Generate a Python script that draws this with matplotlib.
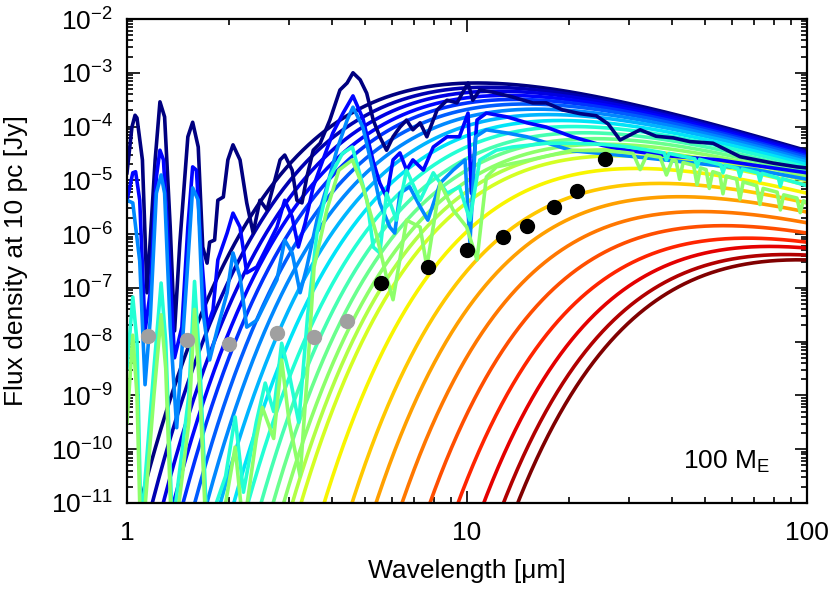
import numpy as np
import matplotlib
matplotlib.use("Agg")
import matplotlib.pyplot as plt
from matplotlib import ticker

plt.rcParams['font.family'] = ['Liberation Sans', 'DejaVu Sans']
plt.rcParams['mathtext.fontset'] = 'custom'
plt.rcParams['mathtext.rm'] = 'Liberation Sans'
plt.rcParams['mathtext.it'] = 'Liberation Sans:italic'

# blackbody curves: one point (wavelength [um], log10 flux) on each curve,
# plus log10 flux at the right edge (100 um)
bb_wl = [10.9] * 14 + [3.25, 3.80, 4.59, 5.40, 6.44, 7.78, 9.41, 11.2, 12.8, 14.1]
bb_f = [-3.19, -3.27, -3.35, -3.44, -3.53, -3.64, -3.77, -3.92, -4.09, -4.28, -4.48, -4.68, -4.87, -5.05,
        -11, -11, -11, -11, -11, -11, -11, -11, -11, -11]
bb_f100 = [-4.45, -4.47, -4.49, -4.52, -4.55, -4.58, -4.62, -4.66, -4.71, -4.76, -4.82, -4.88, -4.94, -5.01,
           -5.09, -5.24, -5.42, -5.59, -5.79, -5.98, -6.15, -6.26, -6.39, -6.48]

# model spectra (index into the blackbody list -> colour), log10 flux
sp0_wl = [1.00, 1.034, 1.056, 1.07, 1.11, 1.145, 1.21, 1.25, 1.29, 1.34, 1.38, 1.43, 1.51, 1.56, 1.62,
          1.67, 1.72, 1.75, 1.81, 1.85, 1.92, 1.98, 2.05, 2.15, 2.25, 2.35, 2.46, 2.58, 2.69, 2.82,
          2.91, 3.06, 3.16, 3.27, 3.38, 3.53, 3.70, 3.95, 4.23, 4.44, 4.62, 4.85, 5.07, 5.30, 5.54,
          5.80, 6.06, 6.35, 6.64, 6.93, 7.28, 7.62, 8.17, 8.74, 9.34, 10.07, 10.4, 10.9, 11.9, 13.6,
          15.6, 17.1, 19.1, 21.5, 24.0, 26.0, 28.2, 32.3, 36.0, 40.4, 45.3, 52.9, 63.5, 79.5, 93.5, 100]
sp0_f = [-4.86, -4.01, -3.79, -3.84, -4.62, -7.09, -4.62, -3.54, -3.82, -5.87, -7.80, -6.17, -4.19, -3.92, -4.38,
         -6.24, -6.54, -6.15, -6.11, -5.37, -5.31, -4.62, -4.34, -4.62, -5.42, -5.98, -5.37, -5.55, -5.12, -4.62,
         -4.53, -4.81, -5.37, -5.42, -4.94, -4.44, -4.31, -3.88, -3.32, -3.19, -3.00, -3.13, -3.38, -3.88, -4.19,
         -4.44, -4.19, -4.01, -3.88, -4.06, -3.93, -4.19, -3.69, -3.51, -3.56, -3.19, -3.51, -3.32, -3.36, -3.45,
         -3.56, -3.56, -3.69, -3.76, -3.80, -3.95, -4.25, -4.06, -4.18, -4.21, -4.28, -4.31, -4.56, -4.68, -4.75, -4.77]

sp3_wl = [1.00, 1.04, 1.06, 1.09, 1.13, 1.17, 1.22, 1.25, 1.28, 1.34, 1.38, 1.45, 1.51, 1.56, 1.60,
          1.66, 1.72, 1.79, 1.85, 1.97, 2.05, 2.15, 2.25, 2.41, 2.58, 2.76, 2.91, 3.06, 3.19, 3.34,
          3.53, 3.77, 4.03, 4.32, 4.62, 4.94, 5.30, 5.54, 5.80, 6.06, 6.35, 6.64, 6.93, 7.44, 7.96,
          8.74, 9.5, 10.07, 10.3, 10.7, 11.4, 13.1, 15.0, 17.1, 20.4, 25.0, 30.0, 40.0, 55.0, 70.0, 100]
sp3_f = [-5.37, -4.86, -4.84, -5.37, -7.80, -7.09, -4.94, -4.44, -4.62, -6.80, -8.30, -7.73, -5.87, -4.75, -4.81,
         -6.48, -7.73, -7.41, -6.48, -5.98, -5.61, -5.87, -6.72, -6.61, -6.24, -5.87, -5.37, -5.68, -6.24, -5.80,
         -5.12, -4.62, -4.12, -3.75, -3.43, -3.85, -4.65, -5.05, -5.31, -4.62, -4.49, -4.81, -4.62, -4.81, -4.38,
         -4.19, -4.19, -3.75, -5.24, -3.88, -3.75, -3.82, -3.93, -4.01, -4.19, -4.35, -4.45, -4.55, -4.62, -4.72, -4.86]

sp6_wl = [1.00, 1.04, 1.09, 1.13, 1.17, 1.22, 1.26, 1.29, 1.34, 1.40, 1.50, 1.56, 1.62, 1.67, 1.75,
          1.85, 1.97, 2.05, 2.15, 2.25, 2.41, 2.58, 2.76, 2.91, 3.06, 3.23, 3.38, 3.62, 3.87, 4.14,
          4.44, 4.62, 4.94, 5.29, 5.54, 5.93, 6.13, 6.35, 6.78, 7.28, 7.67, 8.34, 9.1, 9.87, 10.2,
          10.6, 11.4, 13.1, 15.0, 17.1, 20.4, 30.0, 50.0, 70.0, 100]
sp6_f = [-5.37, -5.42, -6.50, -8.80, -7.60, -5.24, -4.90, -5.24, -7.73, -9.60, -6.80, -5.14, -5.37, -7.41, -8.34,
         -7.73, -7.09, -6.35, -6.80, -7.73, -7.60, -7.22, -6.85, -6.11, -6.35, -7.09, -6.61, -5.74, -5.12, -4.44,
         -3.88, -3.64, -4.01, -4.81, -5.42, -5.87, -5.98, -5.24, -5.12, -5.49, -5.74, -5.05, -4.81, -4.62, -6.17,
         -4.19, -4.06, -4.12, -4.19, -4.30, -4.45, -4.55, -4.70, -4.80, -4.98]

sp9_wl = [1.00, 1.04, 1.07, 1.10, 1.20, 1.26, 1.30, 1.36, 1.52, 1.58, 1.64, 1.72, 1.95, 2.08, 2.20,
          2.40, 2.55, 2.70, 2.85, 3.00, 3.20, 3.40, 3.62, 3.95, 4.30, 4.60, 5.08, 5.30, 5.54, 5.80,
          6.20, 6.64, 7.28, 7.96, 8.74, 9.5, 10.2, 10.9, 12.2, 13.6, 17.2, 20.4, 25.0, 30.0, 35.0,
          38.0, 38.6, 39.3, 46.8, 47.5, 48.3, 55.8, 56.6, 57.5, 62.6, 63.5, 64.5, 71.7, 72.7, 73.8,
          82.4, 83.5, 84.7, 100]
sp9_f = [-8.50, -7.17, -8.00, -11.5, -8.50, -6.91, -8.00, -11.5, -9.00, -6.88, -8.50, -11.5, -10.5, -9.40, -10.8,
         -9.50, -8.77, -9.30, -8.03, -8.60, -9.50, -7.50, -5.98, -4.94, -4.50, -4.38, -5.37, -6.24, -6.35, -5.24,
         -5.74, -4.81, -5.37, -4.86, -5.24, -5.12, -5.74, -4.62, -4.44, -4.38, -4.31, -4.31, -4.33, -4.38, -4.45,
         -4.49, -4.62, -4.50, -4.60, -4.75, -4.61, -4.71, -4.86, -4.72, -4.78, -4.93, -4.79, -4.86, -5.01, -4.87,
         -4.96, -5.11, -4.97, -5.10]

sp12_wl = [1.00, 1.04, 1.07, 1.10, 1.20, 1.26, 1.30, 1.36, 1.52, 1.58, 1.64, 1.72, 1.95, 2.08, 2.20,
           2.40, 2.50, 2.70, 2.85, 3.00, 3.23, 3.40, 3.55, 3.87, 4.20, 4.60, 4.94, 5.40, 5.80, 6.06,
           6.64, 7.28, 7.62, 8.34, 9.1, 9.98, 10.7, 11.4, 12.2, 15.3, 20.4, 25.0, 28.0, 30.8, 32.3,
           33.8, 37.0, 38.6, 40.2, 41.2, 42.2, 43.2, 46.4, 47.5, 48.6, 50.5, 51.6, 52.8, 55.4, 56.6,
           57.9, 62.1, 63.5, 64.9, 71.1, 72.7, 74.3, 81.7, 83.5, 85.4, 93.4, 95.5, 97.6, 100]
sp12_f = [-9.50, -7.88, -9.00, -12.0, -9.00, -7.50, -8.50, -12.0, -9.50, -7.40, -9.00, -12.0, -11.0, -9.96, -11.5,
          -9.80, -9.22, -9.80, -8.34, -9.50, -10.5, -8.50, -6.61, -5.55, -4.81, -4.62, -5.12, -5.98, -6.80, -7.22,
          -5.74, -5.87, -6.61, -5.05, -5.55, -5.87, -6.48, -4.94, -4.75, -4.62, -4.44, -4.45, -4.47, -4.50, -4.80,
          -4.53, -4.57, -4.90, -4.62, -4.64, -4.98, -4.67, -4.72, -5.08, -4.77, -4.80, -5.15, -4.84, -4.88, -5.25,
          -4.92, -4.98, -5.35, -5.03, -5.10, -5.45, -5.15, -5.22, -5.55, -5.27, -5.33, -5.60, -5.38, -5.42]

spectra = [(0, sp0_wl, sp0_f), (3, sp3_wl, sp3_f), (6, sp6_wl, sp6_f),
           (9, sp9_wl, sp9_f), (12, sp12_wl, sp12_f)]

# photometric sensitivity limits
nircam_wl = [1.15, 1.50, 2.00, 2.77, 3.56, 4.44]
nircam_f = [1.28e-8, 1.07e-8, 9.1e-9, 1.45e-8, 1.23e-8, 2.45e-8]
miri_wl = [5.6, 7.7, 10.0, 12.8, 15.0, 18.0, 21.0, 25.5]
miri_f = [1.24e-7, 2.45e-7, 5.1e-7, 8.9e-7, 1.4e-6, 3.2e-6, 6.3e-6, 2.5e-5]


def planck_shape(lam, T):
    return lam ** -3.0 / np.expm1(14388.0 / (lam * T))


def solve_temp(wa, fa, f100):
    # temperature whose Planck curve passes through (wa, fa) and (100 um, f100)
    target = fa - f100
    lo, hi = np.log(10.0), np.log(5000.0)
    for _ in range(80):
        mid = 0.5 * (lo + hi)
        T = np.exp(mid)
        val = np.log10(planck_shape(wa, T) / planck_shape(100.0, T))
        if val < target:
            lo = mid
        else:
            hi = mid
    return np.exp(0.5 * (lo + hi))


n = len(bb_wl)
cmap = plt.get_cmap('jet')
colors = [cmap(i / (n - 1)) for i in range(n)]

fig = plt.figure(figsize=(8.3, 5.9), dpi=100)
ax = fig.add_axes([127 / 830, 1 - 503 / 590, 680 / 830, 484 / 590])

lam = np.logspace(0, 2, 600)
for i in range(n):
    T = solve_temp(bb_wl[i], bb_f[i], bb_f100[i])
    amp = 10 ** bb_f100[i] / planck_shape(100.0, T)
    ax.plot(lam, amp * planck_shape(lam, T), color=colors[i], lw=2.6)

for idx, wl, f in spectra:
    ax.plot(wl, 10 ** np.array(f), color=colors[idx], lw=2.6, solid_joinstyle='round')

ax.plot(nircam_wl, nircam_f, 'o', color='#a0a0a0', ms=10, zorder=5)
ax.plot(miri_wl, miri_f, 'o', color='black', ms=10, zorder=5)

ax.set_xscale('log')
ax.set_yscale('log')
ax.set_xlim(1, 100)
ax.set_ylim(1e-11, 1e-2)
ax.set_xticks([1, 10, 100])
ax.xaxis.set_major_formatter(ticker.FuncFormatter(lambda v, p: '%g' % v))
ax.xaxis.set_minor_formatter(ticker.NullFormatter())
ax.yaxis.set_major_locator(ticker.LogLocator(base=10, numticks=20))
ax.yaxis.set_minor_locator(ticker.LogLocator(base=10, subs=np.arange(2, 10), numticks=20))
ax.yaxis.set_minor_formatter(ticker.NullFormatter())

ax.tick_params(which='both', direction='in', top=True, right=True, labelsize=19, width=1.2)
ax.tick_params(which='major', length=9, pad=10)
ax.tick_params(axis='x', which='major', pad=13)
ax.tick_params(which='minor', length=4.5)
for s in ax.spines.values():
    s.set_linewidth(1.6)

ax.set_xlabel('Wavelength [μm]', fontsize=19, labelpad=10)
ax.set_ylabel('Flux density at 10 pc [Jy]', fontsize=19)
ax.yaxis.set_label_coords(-0.145, 0.5)

ax.text(0.946, 0.085, r'100 M$_\mathrm{E}$', transform=ax.transAxes, ha='right', va='center', fontsize=19)

fig.savefig('out.png', dpi=100)
